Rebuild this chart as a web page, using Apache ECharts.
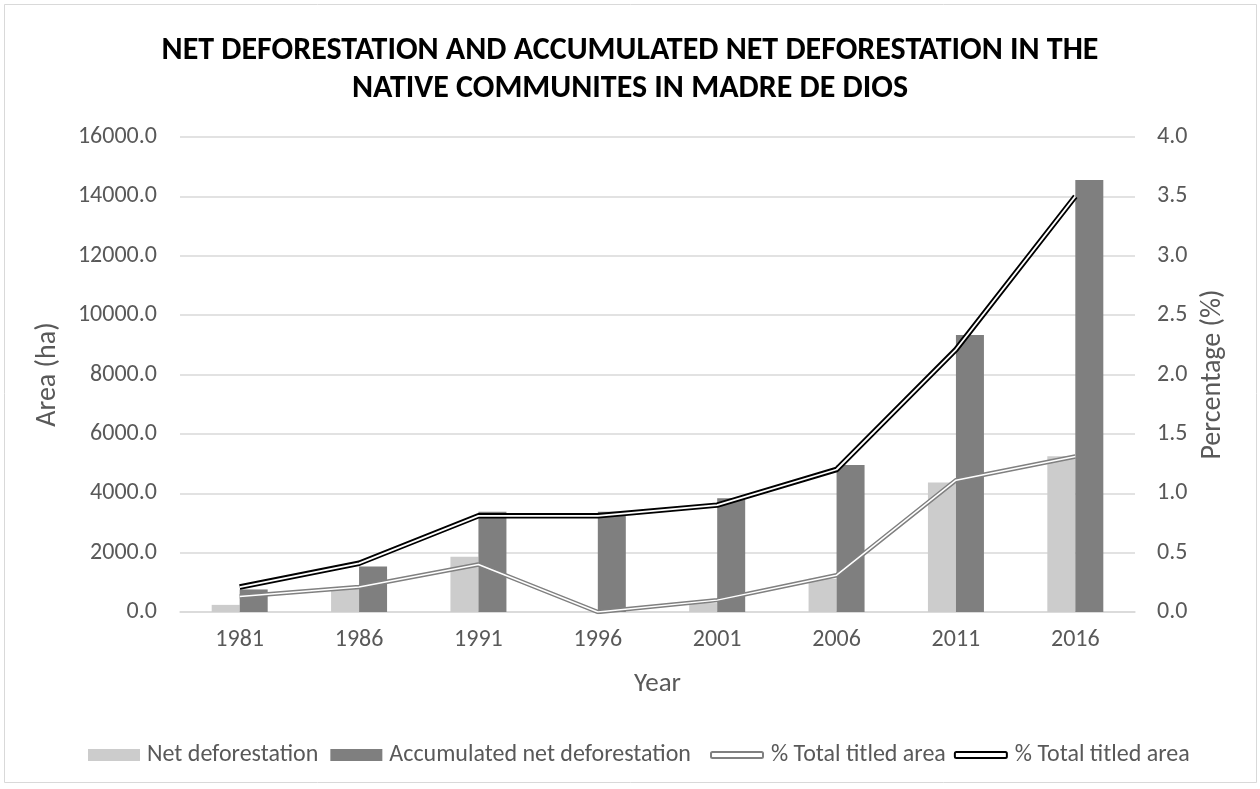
<!DOCTYPE html>
<html>
<head>
<meta charset="utf-8">
<script src="https://cdn.jsdelivr.net/npm/echarts@6/dist/echarts.min.js"></script>
<style>
html,body{margin:0;padding:0;background:#fff;}
#chart{width:1260px;height:789px;}
</style>
</head>
<body>
<div id="chart"></div>
<script>
const years = ['1981','1986','1991','1996','2001','2006','2011','2016'];
const netDeforestation = [240, 800, 1860, 0, 300, 1120, 4360, 5250];
const accumulatedDeforestation = [760, 1530, 3380, 3380, 3830, 4950, 9330, 14550];
const pctNet = [0.13, 0.21, 0.40, 0.0, 0.10, 0.31, 1.11, 1.31];
const pctAccumulated = [0.21, 0.41, 0.81, 0.81, 0.90, 1.20, 2.21, 3.50];
const leftTicks = {min: 0, max: 16000, interval: 2000};
const rightTicks = {min: 0, max: 4, interval: 0.5};

const FONT = "Carlito, 'Noto Sans', sans-serif";
const TXT = '#595959';
const chart = echarts.init(document.getElementById('chart'), null, {renderer: 'canvas'});

const option = {
  animation: false,
  backgroundColor: '#ffffff',
  textStyle: {fontFamily: FONT},
  title: {
    text: 'NET DEFORESTATION AND ACCUMULATED NET DEFORESTATION IN THE\nNATIVE COMMUNITES IN MADRE DE DIOS',
    left: 'center',
    top: 27,
    textStyle: {fontFamily: FONT, fontSize: 32, fontWeight: 'bold', color: '#000', lineHeight: 38}
  },
  graphic: [{
    type: 'rect', shape: {x: 4.5, y: 4.5, width: 1252, height: 778},
    style: {fill: 'none', stroke: '#d9d9d9', lineWidth: 1}, silent: true, z: -1
  }],
  legend: [{
    left: 83, top: 738,
    itemWidth: 52, itemHeight: 12, itemGap: 12,
    icon: 'rect',
    textStyle: {fontFamily: FONT, fontSize: 24, color: TXT, padding: [0,0,0,2]},
    data: ['Net deforestation', 'Accumulated net deforestation']
  }, {
    left: 705, top: 738,
    itemWidth: 52, itemHeight: 6, itemGap: 8,
    textStyle: {fontFamily: FONT, fontSize: 24, color: TXT, padding: [0,0,0,3]},
    data: [
      {name: '% Total titled area', icon: 'roundRect', itemStyle: {color: '#fff', borderColor: '#808080', borderWidth: 2}},
      {name: '% Total titled area ', icon: 'roundRect', itemStyle: {color: '#fff', borderColor: '#000', borderWidth: 2}}
    ]
  }],
  grid: {left: 180, right: 125, top: 137, bottom: 177, containLabel: false},
  xAxis: {
    type: 'category',
    data: years,
    name: 'Year',
    nameLocation: 'middle',
    nameGap: 59,
    nameTextStyle: {fontFamily: FONT, fontSize: 27, color: TXT},
    axisLine: {lineStyle: {color: '#d9d9d9', width: 1.5}},
    axisTick: {show: false},
    axisLabel: {fontFamily: FONT, fontSize: 24, color: TXT, margin: 16}
  },
  yAxis: [{
    type: 'value',
    min: leftTicks.min, max: leftTicks.max, interval: leftTicks.interval,
    name: 'Area (ha)',
    nameLocation: 'middle',
    nameGap: 118,
    nameRotate: 90,
    nameTextStyle: {fontFamily: FONT, fontSize: 28, color: TXT},
    axisLine: {show: false},
    axisTick: {show: false},
    splitLine: {lineStyle: {color: '#d9d9d9', width: 1.5}},
    axisLabel: {fontFamily: FONT, fontSize: 24, color: TXT, margin: 23, formatter: v => v.toFixed(1)}
  }, {
    type: 'value',
    position: 'right',
    min: rightTicks.min, max: rightTicks.max, interval: rightTicks.interval,
    name: 'Percentage (%)',
    nameLocation: 'middle',
    nameGap: 64,
    nameRotate: 90,
    nameTextStyle: {fontFamily: FONT, fontSize: 28, color: TXT},
    axisLine: {show: false},
    axisTick: {show: false},
    splitLine: {show: false},
    axisLabel: {fontFamily: FONT, fontSize: 24, color: TXT, margin: 22, formatter: v => v.toFixed(1)}
  }],
  series: [{
    name: 'Net deforestation',
    type: 'bar',
    data: netDeforestation,
    barWidth: 28,
    barGap: '0%',
    itemStyle: {color: '#cccccc'}
  }, {
    name: 'Accumulated net deforestation',
    type: 'bar',
    data: accumulatedDeforestation,
    barWidth: 28,
    barGap: '0%',
    itemStyle: {color: '#7f7f7f'}
  }, {
    name: '% Total titled area',
    type: 'line',
    yAxisIndex: 1,
    data: pctNet,
    symbol: 'none',
    lineStyle: {color: '#808080', width: 4.5},
    itemStyle: {color: '#808080'}
  }, {
    name: 'inner-a',
    type: 'line',
    yAxisIndex: 1,
    data: pctNet,
    symbol: 'none',
    lineStyle: {color: '#ffffff', width: 1.5},
    itemStyle: {color: '#fff'}
  }, {
    name: '% Total titled area ',
    type: 'line',
    yAxisIndex: 1,
    data: pctAccumulated,
    symbol: 'none',
    lineStyle: {color: '#000000', width: 5.5},
    itemStyle: {color: '#000'}
  }, {
    name: 'inner-b',
    type: 'line',
    yAxisIndex: 1,
    data: pctAccumulated,
    symbol: 'none',
    lineStyle: {color: '#ffffff', width: 1.8},
    itemStyle: {color: '#fff'}
  }]
};
chart.setOption(option);
</script>
</body>
</html>
